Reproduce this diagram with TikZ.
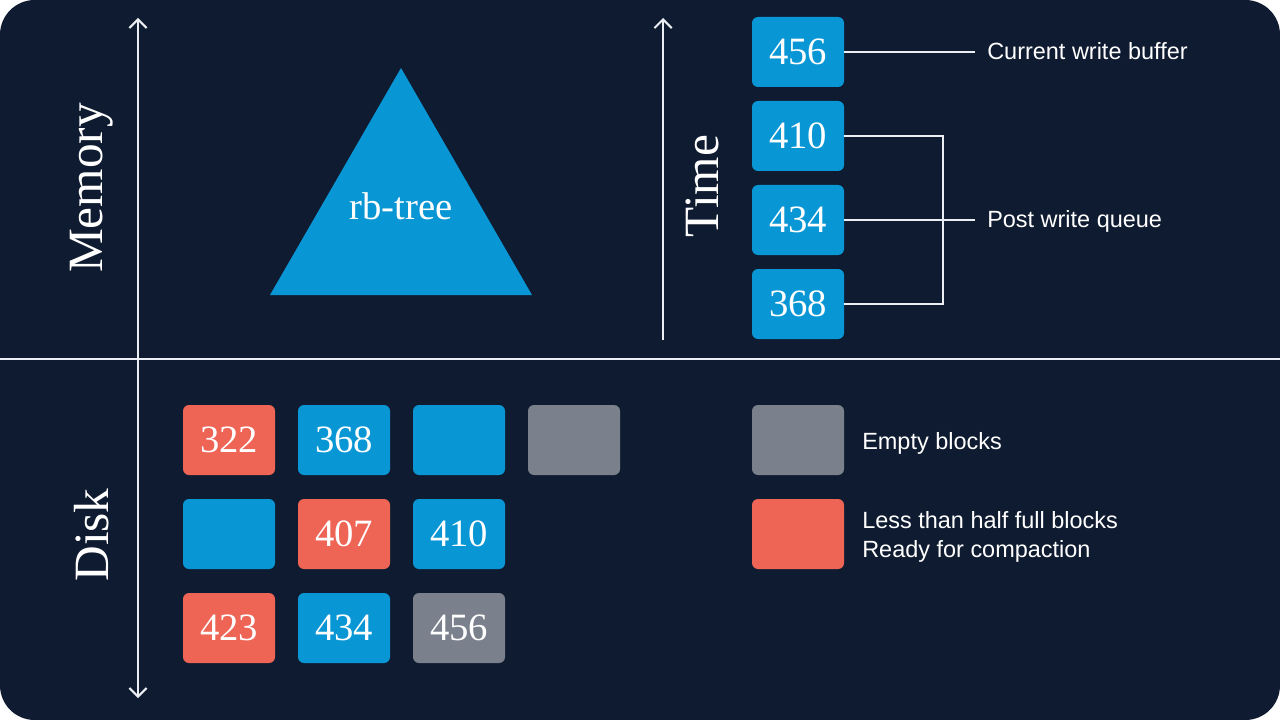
\documentclass[tikz,border=0pt]{standalone}
\usepackage{fontspec}
\setmainfont{Liberation Serif}
\setsansfont{Liberation Sans}
\usetikzlibrary{arrows.meta}
\definecolor{navy}{RGB}{15,27,48}
\definecolor{blk}{RGB}{9,150,212}
\definecolor{redb}{RGB}{238,100,85}
\definecolor{grayb}{RGB}{122,128,140}
\definecolor{linec}{RGB}{235,238,242}
\tikzset{
  blockbox/.style={rounded corners=4.5pt, minimum width=69pt, minimum height=52.5pt, inner sep=0pt, text=white, font=\fontsize{29}{30}\selectfont},
  bluebox/.style={blockbox, fill=blk},
  redbox/.style={blockbox, fill=redb},
  graybox/.style={blockbox, fill=grayb},
  axislabel/.style={text=white, font=\fontsize{37}{40}\selectfont, rotate=90, inner sep=0pt},
  legendtext/.style={text=white, font=\sffamily\fontsize{17.6}{21.75}\selectfont, align=left},
  conn/.style={draw=linec, line width=1.5pt},
  tipshape/.style={},
  axis/.style={draw=linec, line width=1.5pt, {Straight Barb[length=6.5pt,width=13pt,line width=1.5pt]}-{Straight Barb[length=6.5pt,width=13pt,line width=1.5pt]}},
  axisone/.style={draw=linec, line width=1.5pt, -{Straight Barb[length=6.5pt,width=13pt,line width=1.5pt]}}
}
\begin{document}
\begin{tikzpicture}[x=0.75pt,y=-0.75pt]
\useasboundingbox (0,0) rectangle (1280,720);
\fill[white] (0,0) rectangle (1280,720);
\fill[navy, rounded corners=26pt] (0,0) rectangle (1280,720);

% divider
\draw[conn] (0,359) -- (1280,359);

% memory/disk axis
\coordinate (atop) at (138,18);
\coordinate (abot) at (138,698);
\draw[axis] (abot) -- (atop);
\node[axislabel] (mem) at (92,188) {Memory};
\node[axislabel] (disk) at (92,535) {Disk};

% triangle
\fill[blk] (401,68) -- (532,295) -- (270,295) -- cycle;
\node[text=white, font=\fontsize{29}{31}\selectfont] (rb) at (401,206) {rb-tree};

% time axis
\coordinate (tbot) at (663,340);
\coordinate (ttop) at (663,18);
\draw[axisone] (tbot) -- (ttop);
\node[axislabel] (time) at (702,186) {Time};

% queue boxes
\node[bluebox] (q456) at (798,52) {456};
\node[bluebox] (q410) at (798,136) {410};
\node[bluebox] (q434) at (798,220) {434};
\node[bluebox] (q368) at (798,304) {368};

\node[legendtext, anchor=west, inner xsep=9pt] (cwb) at (975,51) {Current write buffer};
\node[legendtext, anchor=west, inner xsep=9pt] (pwq) at (975,221) {Post write queue};
\coordinate (br) at (943,220);

\draw[conn] (q456.east) -- (q456.east -| cwb.west);
\draw[conn] (q434.east) -- (q434.east -| pwq.west);
\draw[conn] (q410.east) -| (br);
\draw[conn] (q368.east) -| (br);

% disk blocks
\node[redbox]  (d11) at (229,440) {322};
\node[bluebox] (d12) at (344,440) {368};
\node[bluebox] (d13) at (459,440) {};
\node[graybox] (d14) at (574,440) {};
\node[bluebox] (d21) at (229,534) {};
\node[redbox]  (d22) at (344,534) {407};
\node[bluebox] (d23) at (459,534) {410};
\node[redbox]  (d31) at (229,628) {423};
\node[bluebox] (d32) at (344,628) {434};
\node[graybox] (d33) at (459,628) {456};

% legend
\node[graybox] (lg) at (798,440) {};
\node[redbox] (lr) at (798,534) {};
\node[legendtext, anchor=west, inner sep=0pt] (lgt) at (862,443) {Empty blocks};
\node[legendtext, anchor=west, inner sep=0pt] (lrt) at (862,537) {Less than half full blocks\\Ready for compaction};
\end{tikzpicture}
\end{document}
